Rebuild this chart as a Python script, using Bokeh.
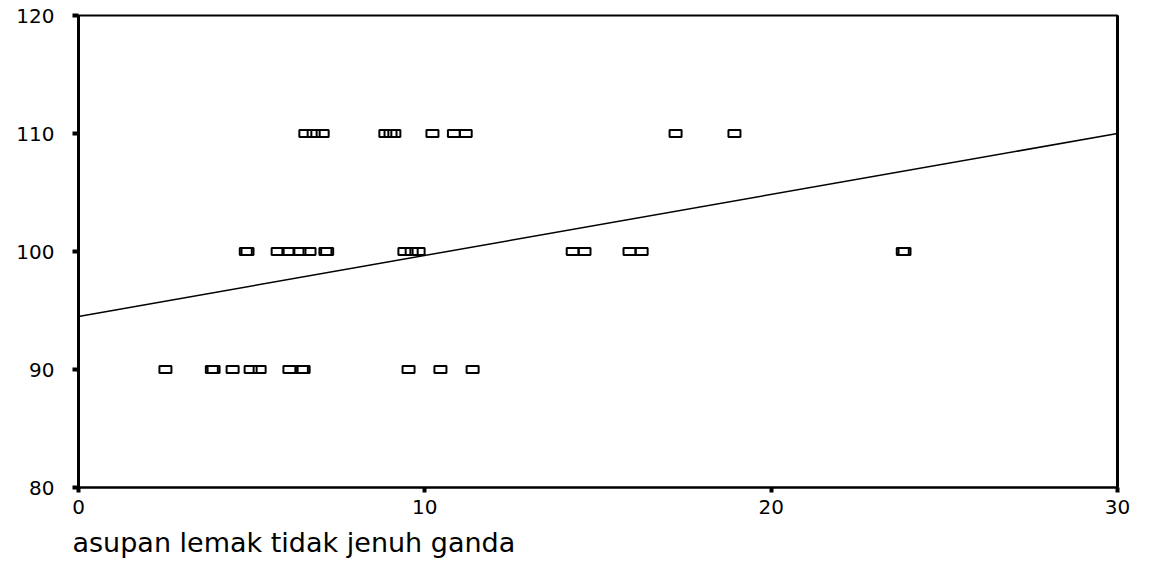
from bokeh.plotting import figure
from bokeh.models import Range1d, LinearAxis, Title, FixedTicker
from bokeh.embed import file_html
from bokeh.resources import INLINE

# data
x_110 = [6.55, 6.79, 7.05, 8.86, 9.01, 9.12, 10.22, 10.84, 11.18, 17.24, 18.94]
x_100 = [4.83, 4.88, 5.75, 6.06, 6.38, 6.67, 7.13, 7.18, 9.41, 9.62, 9.82,
         14.27, 14.61, 15.91, 16.26, 23.80, 23.85]
x_90 = [2.51, 3.85, 3.90, 4.45, 4.97, 5.23, 6.09, 6.45, 6.50, 9.53, 10.45, 11.38]
fit_x = [0, 30]
fit_y = [94.5, 110.0]
x_ticks = [0, 10, 20, 30]
y_ticks = [80, 90, 100, 110, 120]
x_label = "asupan lemak tidak jenuh ganda"

FONT = "DejaVu Sans"

p = figure(width=1152, height=573, output_backend="svg", toolbar_location=None,
           x_range=Range1d(0, 30), y_range=Range1d(80, 120),
           min_border_left=78, min_border_right=35, min_border_top=15,
           min_border_bottom=86, background_fill_color="white",
           border_fill_color="white")
p.grid.visible = False
p.outline_line_color = "black"
p.outline_line_width = 2

for ax in (p.xaxis[0], p.yaxis[0]):
    ax.major_label_text_font = FONT
    ax.major_label_text_font_size = "20px"
    ax.major_label_text_color = "black"
    ax.minor_tick_line_color = None
    ax.major_tick_in = 0
    ax.major_tick_line_width = 4
    ax.major_tick_line_color = "black"

p.xaxis.ticker = FixedTicker(ticks=x_ticks)
p.yaxis.ticker = FixedTicker(ticks=y_ticks)
p.xaxis.axis_line_width = 2
p.xaxis.major_tick_out = 5
p.xaxis.major_label_standoff = 7
p.yaxis.axis_line_width = 3
p.yaxis.major_tick_out = 6
p.yaxis.major_label_standoff = 18

right = LinearAxis(major_tick_line_color=None, minor_tick_line_color=None,
                   major_label_text_font_size="0px", axis_line_width=3)
right.ticker = FixedTicker(ticks=[])
p.add_layout(right, "right")

p.line(fit_x, fit_y, line_color="black", line_width=1.5)

for xs, yv in ((x_110, 110), (x_100, 100), (x_90, 90)):
    p.rect(xs, [yv] * len(xs), width=12, height=7, width_units="screen",
           height_units="screen", fill_alpha=0, line_color="black", line_width=2)

p.add_layout(Title(text=x_label, align="left", offset=-6, standoff=16,
                   text_font=FONT, text_font_size="27px", text_color="black",
                   text_font_style="normal"), "below")

open("out.html", "w").write(file_html(p, INLINE))
